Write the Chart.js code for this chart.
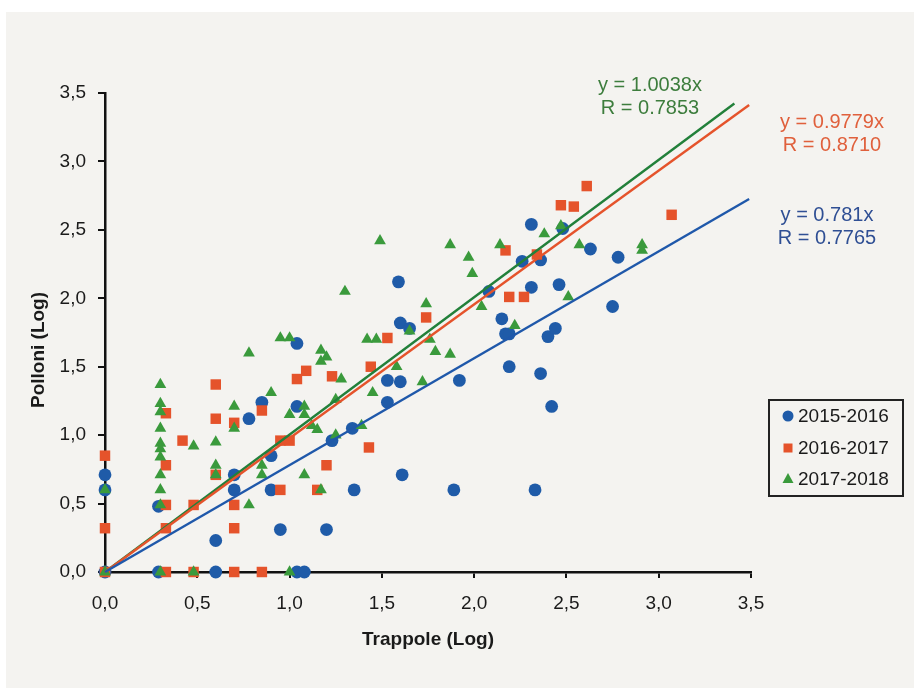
<!DOCTYPE html>
<html><head><meta charset="utf-8">
<script src="https://cdn.jsdelivr.net/npm/chart.js@4/dist/chart.umd.min.js"></script>
<style>html,body{margin:0;padding:0;background:#fff;}#wrap{width:914px;height:688px;position:relative;}</style>
</head><body><div id="wrap"><canvas id="c" width="914" height="688"></canvas></div>
<script>
const seriesNames = ['2015-2016', '2016-2017', '2017-2018'];
const x1516 = [0,0,0,0.29,0.29,0.6,0.6,0.7,0.7,0.78,0.85,0.9,0.9,0.95,1.04,1.04,1.04,1.08,1.2,1.23,1.34,1.35,1.53,1.53,1.59,1.6,1.6,1.61,1.65,1.89,1.92,2.08,2.15,2.17,2.19,2.19,2.26,2.31,2.31,2.33,2.36,2.36,2.40,2.42,2.44,2.46,2.48,2.63,2.75,2.78];
const y1516 = [0.71,0.6,0,0,0.48,0.23,0,0.71,0.6,1.12,1.24,0.85,0.6,0.31,1.67,1.21,0,0,0.31,0.96,1.05,0.6,1.40,1.24,2.12,1.82,1.39,0.71,1.78,0.6,1.40,2.05,1.85,1.74,1.74,1.50,2.27,2.54,2.08,0.6,2.28,1.45,1.72,1.21,1.78,2.10,2.51,2.36,1.94,2.30];
const x1617 = [0,0,0,0.33,0.33,0.33,0.33,0.33,0.42,0.48,0.48,0.6,0.6,0.6,0.7,0.7,0.7,0.7,0.85,0.85,0.95,1.0,0.95,1.04,1.09,1.15,1.2,1.23,1.43,1.44,1.53,1.74,2.17,2.19,2.27,2.34,2.47,2.54,2.61,3.07];
const y1617 = [0.85,0.32,0,1.16,0.78,0.49,0.32,0,0.96,0.49,0,1.37,1.12,0.71,1.09,0.49,0.32,0,1.18,0,0.96,0.96,0.6,1.41,1.47,0.6,0.78,1.43,0.91,1.5,1.71,1.86,2.35,2.01,2.01,2.32,2.68,2.67,2.82,2.61];
const x1718 = [0,0,0.3,0.3,0.3,0.3,0.3,0.3,0.3,0.3,0.3,0.3,0.3,0.48,0.48,0.6,0.6,0.6,0.7,0.7,0.78,0.78,0.85,0.85,0.9,0.95,1.0,1.0,1.0,1.08,1.08,1.08,1.12,1.15,1.17,1.2,1.17,1.17,1.25,1.25,1.28,1.3,1.39,1.42,1.45,1.47,1.49,1.58,1.65,1.72,1.74,1.76,1.79,1.87,1.87,1.97,1.99,2.04,2.14,2.22,2.38,2.47,2.51,2.57,2.91,2.91];
const y1718 = [0.6,0,1.37,1.23,1.17,1.05,0.94,0.9,0.84,0.71,0.6,0.49,0,0.92,0,0.95,0.78,0.71,1.21,1.05,1.6,0.49,0.78,0.71,1.31,1.71,1.71,1.15,0,1.21,1.15,0.71,1.07,1.04,1.62,1.57,1.54,0.6,1.0,1.26,1.41,2.05,1.07,1.70,1.31,1.70,2.42,1.5,1.76,1.39,1.96,1.70,1.61,2.39,1.59,2.30,2.18,1.94,2.39,1.8,2.47,2.53,2.01,2.39,2.39,2.35];
const slopes = [0.781, 0.9779, 1.0038];
const slopeLabels = ['0.781', '0.9779', '1.0038'];
const rLabels = ['0.7765', '0.8710', '0.7853'];
const lineEndX = [3.49, 3.49, 3.41];
const xTickValues = [0, 0.5, 1, 1.5, 2, 2.5, 3, 3.5];
const yTickValues = [0, 0.5, 1, 1.5, 2, 2.5, 3, 3.5];

const markerColors = ['#1f5ba8', '#e5532b', '#3a9a3c'];
const lineColors = ['#1f58aa', '#e5532b', '#22803a'];
const textColors = ['#2f4f94', '#e0603c', '#3d7d3d'];
const pointStyles = ['circle', 'rect', 'triangle'];
const pointRadii = [6.4, 7.4, 6.8];

const xs = [x1516, x1617, x1718];
const ys = [y1516, y1617, y1718];
const fmt = v => v.toFixed(1).replace('.', ',');

const datasets = [];
for (let i = 0; i < 3; i++) {
  datasets.push({
    label: seriesNames[i],
    data: xs[i].map((x, k) => ({x: x, y: ys[i][k]})),
    pointStyle: pointStyles[i],
    pointRadius: pointRadii[i],
    pointHoverRadius: pointRadii[i],
    backgroundColor: markerColors[i],
    borderColor: markerColors[i],
    borderWidth: 0,
    showLine: false,
    clip: false,
    order: 3 - i
  });
}
for (let i = 0; i < 3; i++) {
  datasets.push({
    label: 'trend ' + seriesNames[i],
    data: [{x: 0, y: 0}, {x: lineEndX[i], y: slopes[i] * lineEndX[i]}],
    showLine: true,
    pointRadius: 0,
    borderColor: lineColors[i],
    borderWidth: 2.4,
    fill: false,
    clip: false,
    order: 0
  });
}

const bgPlugin = {
  id: 'bg',
  beforeDraw(chart) {
    const ctx = chart.ctx;
    ctx.save();
    ctx.fillStyle = '#ffffff';
    ctx.fillRect(0, 0, chart.width, chart.height);
    ctx.fillStyle = '#f4f3f0';
    ctx.fillRect(6, 12, chart.width - 6, chart.height - 12);
    ctx.restore();
  }
};

const annoPlugin = {
  id: 'anno',
  afterDraw(chart) {
    const ctx = chart.ctx;
    ctx.save();
    ctx.font = 'bold 19px "Liberation Sans", Arial, sans-serif';
    ctx.fillStyle = '#1a1a1a';
    ctx.textAlign = 'center';
    ctx.textBaseline = 'middle';
    ctx.translate(39, 350);
    ctx.rotate(-Math.PI / 2);
    ctx.fillText('Polloni (Log)', 0, 0);
    ctx.restore();

    ctx.save();
    ctx.font = '20px "Liberation Sans", Arial, sans-serif';
    ctx.textAlign = 'center';
    ctx.textBaseline = 'middle';
    const pos = [[827, 215, 238], [832, 122, 145], [650, 85, 108]];
    for (let i = 0; i < 3; i++) {
      ctx.fillStyle = textColors[i];
      ctx.fillText('y = ' + slopeLabels[i] + 'x', pos[i][0], pos[i][1]);
      ctx.fillText('R = ' + rLabels[i], pos[i][0], pos[i][2]);
    }
    ctx.restore();

    ctx.save();
    ctx.fillStyle = '#f4f3f0';
    ctx.fillRect(769, 400, 134, 96);
    ctx.strokeStyle = '#222';
    ctx.lineWidth = 2;
    ctx.strokeRect(769, 400, 134, 96);
    const ly = [416, 448, 479];
    ctx.font = '19px "Liberation Sans", Arial, sans-serif';
    ctx.textAlign = 'left';
    ctx.textBaseline = 'middle';
    for (let i = 0; i < 3; i++) {
      ctx.fillStyle = markerColors[i];
      ctx.beginPath();
      if (i === 0) { ctx.arc(788, ly[i], 5.5, 0, Math.PI * 2); }
      else if (i === 1) { ctx.rect(783.5, ly[i] - 4.5, 9, 9); }
      else { ctx.moveTo(788, ly[i] - 6); ctx.lineTo(793.5, ly[i] + 4); ctx.lineTo(782.5, ly[i] + 4); ctx.closePath(); }
      ctx.fill();
      ctx.fillStyle = '#1a1a1a';
      ctx.fillText(seriesNames[i], 798, ly[i] + 1);
    }
    ctx.restore();
  }
};

new Chart(document.getElementById('c'), {
  type: 'scatter',
  data: {datasets: datasets},
  plugins: [bgPlugin, annoPlugin],
  options: {
    responsive: false,
    animation: false,
    events: [],
    layout: {padding: {left: 25, right: 163, top: 93, bottom: 33}},
    plugins: {legend: {display: false}, tooltip: {enabled: false}},
    scales: {
      x: {
        type: 'linear', min: 0, max: 3.5,
        afterBuildTicks: s => { s.ticks = xTickValues.map(v => ({value: v})); },
        afterFit: s => { s.height = 83; },
        ticks: {callback: v => fmt(v), color: '#1a1a1a', padding: 14, font: {size: 19, family: '"Liberation Sans", Arial, sans-serif'}, maxRotation: 0},
        grid: {display: true, drawOnChartArea: false, drawTicks: true, tickLength: 6, color: '#111', lineWidth: 2},
        border: {display: true, color: '#111', width: 2.5},
        title: {display: true, text: 'Trappole (Log)', color: '#1a1a1a', font: {size: 19, weight: 'bold', family: '"Liberation Sans", Arial, sans-serif'}, padding: {top: 4, bottom: 4}}
      },
      y: {
        type: 'linear', min: 0, max: 3.5,
        afterBuildTicks: s => { s.ticks = yTickValues.map(v => ({value: v})); },
        afterFit: s => { s.width = 80; },
        ticks: {callback: v => fmt(v), color: '#1a1a1a', padding: 12, font: {size: 19, family: '"Liberation Sans", Arial, sans-serif'}},
        grid: {display: true, drawOnChartArea: false, drawTicks: true, tickLength: 7, color: '#111', lineWidth: 2},
        border: {display: true, color: '#111', width: 2.5},
        title: {display: false}
      }
    }
  }
});
</script></body></html>
